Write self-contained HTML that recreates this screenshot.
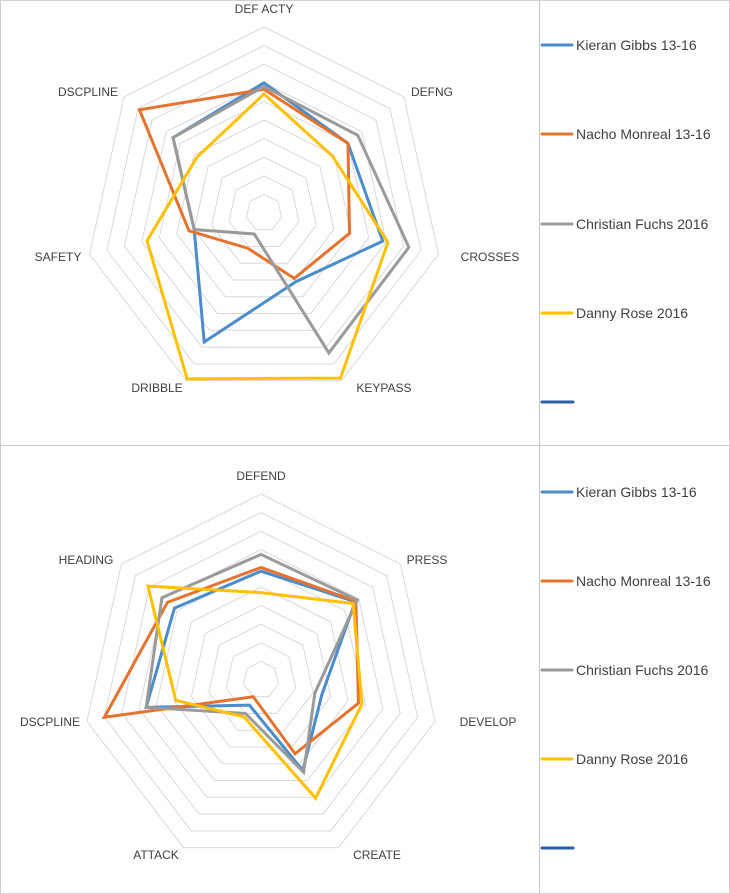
<!DOCTYPE html>
<html><head><meta charset="utf-8"><style>
html,body{margin:0;padding:0;background:#fff;}
svg{display:block;font-family:"Liberation Sans",sans-serif;}
</style></head><body>
<svg id="s" width="730" height="894" viewBox="0 0 730 894">
<rect x="0.5" y="0.5" width="729" height="893" fill="#fff" stroke="#d0d0d0"/>
<line x1="539.5" y1="0" x2="539.5" y2="894" stroke="#c8c8c8"/>
<line x1="0" y1="445.5" x2="730" y2="445.5" stroke="#c8c8c8"/>
</svg>
<script>
const series = ["Kieran Gibbs 13-16","Nacho Monreal 13-16","Christian Fuchs 2016","Danny Rose 2016"];
const colors = ["#4a8ccc","#e5732f","#9a9a9a","#ffc000"];
const topAxes = ["DEF ACTY","DEFNG","CROSSES","KEYPASS","DRIBBLE","SAFETY","DSCPLINE"];
const topGibbs = [7.0,6.0,6.8,4.1,7.7,4.0,6.5];
const topMonreal = [6.65,6.0,4.9,3.9,2.1,4.3,8.9];
const topFuchs = [6.8,6.7,8.3,8.35,1.25,4.0,6.5];
const topRose = [6.4,4.9,7.1,9.85,9.9,6.7,4.8];
const botAxes = ["DEFEND","PRESS","DEVELOP","CREATE","ATTACK","DSCPLINE","HEADING"];
const botGibbs = [5.85,6.75,3.5,5.4,1.5,6.6,6.2];
const botMonreal = [6.05,6.8,5.6,4.4,1.0,9.0,6.7];
const botFuchs = [6.75,6.9,3.1,5.5,2.0,6.6,7.1];
const botRose = [4.7,6.6,5.8,7.05,2.2,4.9,8.1];
const maxVal = 10;

const NS="http://www.w3.org/2000/svg";
const svg=document.getElementById('s');
function mk(tag,attrs,parent){const e=document.createElementNS(NS,tag);for(const k in attrs)e.setAttribute(k,attrs[k]);(parent||svg).appendChild(e);return e;}

function drawRadar(prefix,axes,data,cx,cy,rx,ry,labelPos,legendY){
  const g=mk('g',{});
  
  
  const n=axes.length;
  const pt=(i,v)=>{const a=2*Math.PI*i/n;return [cx+Math.sin(a)*rx*v/maxVal, cy-Math.cos(a)*ry*v/maxVal];};
  for(let r=1;r<=maxVal;r++){
    const pts=[];for(let i=0;i<n;i++)pts.push(pt(i,r).join(','));
    const p=mk('polygon',{points:pts.join(' '),fill:'none',stroke:'#d9d9d9','stroke-width':1},g);
    
    
  }
  axes.forEach((lab,i)=>{
    const t=mk('text',{x:labelPos[i][0],y:labelPos[i][1],'text-anchor':'middle','font-size':12,fill:'#404040'},g);
    t.textContent=lab;
    
    
  });
  data.forEach((vals,s)=>{
    const pts=vals.map((v,i)=>pt(i,v).join(','));
    const p=mk('polygon',{points:pts.join(' '),fill:'none',stroke:colors[s],'stroke-width':3,'stroke-linejoin':'miter'},g);
    
    
  });
  // legend
  series.forEach((name,s)=>{
    const y=legendY[s];
    const l=mk('line',{x1:542,y1:y,x2:572,y2:y,stroke:colors[s],'stroke-width':3,'stroke-linecap':'round'},g);
    
    
    const t=mk('text',{x:576,y:y+5,'font-size':14,fill:'#404040'},g);
    t.textContent=name;
    
    
  });
  const y=legendY[4];
  const l=mk('line',{x1:542,y1:y,x2:573,y2:y,stroke:'#2a5fa3','stroke-width':3,'stroke-linecap':'round'},g);
  
  
}

drawRadar('top',topAxes,[topGibbs,topMonreal,topFuchs,topRose],264,213,179,186,
  [[264,13],[432,96],[490,261],[384,392],[157,392],[58,261],[88,96]],
  [45,134,224,313,402]);
drawRadar('bottom',botAxes,[botGibbs,botMonreal,botFuchs,botRose],261,680,178.5,186,
  [[261,480],[427,564],[488,726],[377,859],[156,859],[50,726],[86,564]],
  [492,581,670,759,848]);
</script>
</body></html>
